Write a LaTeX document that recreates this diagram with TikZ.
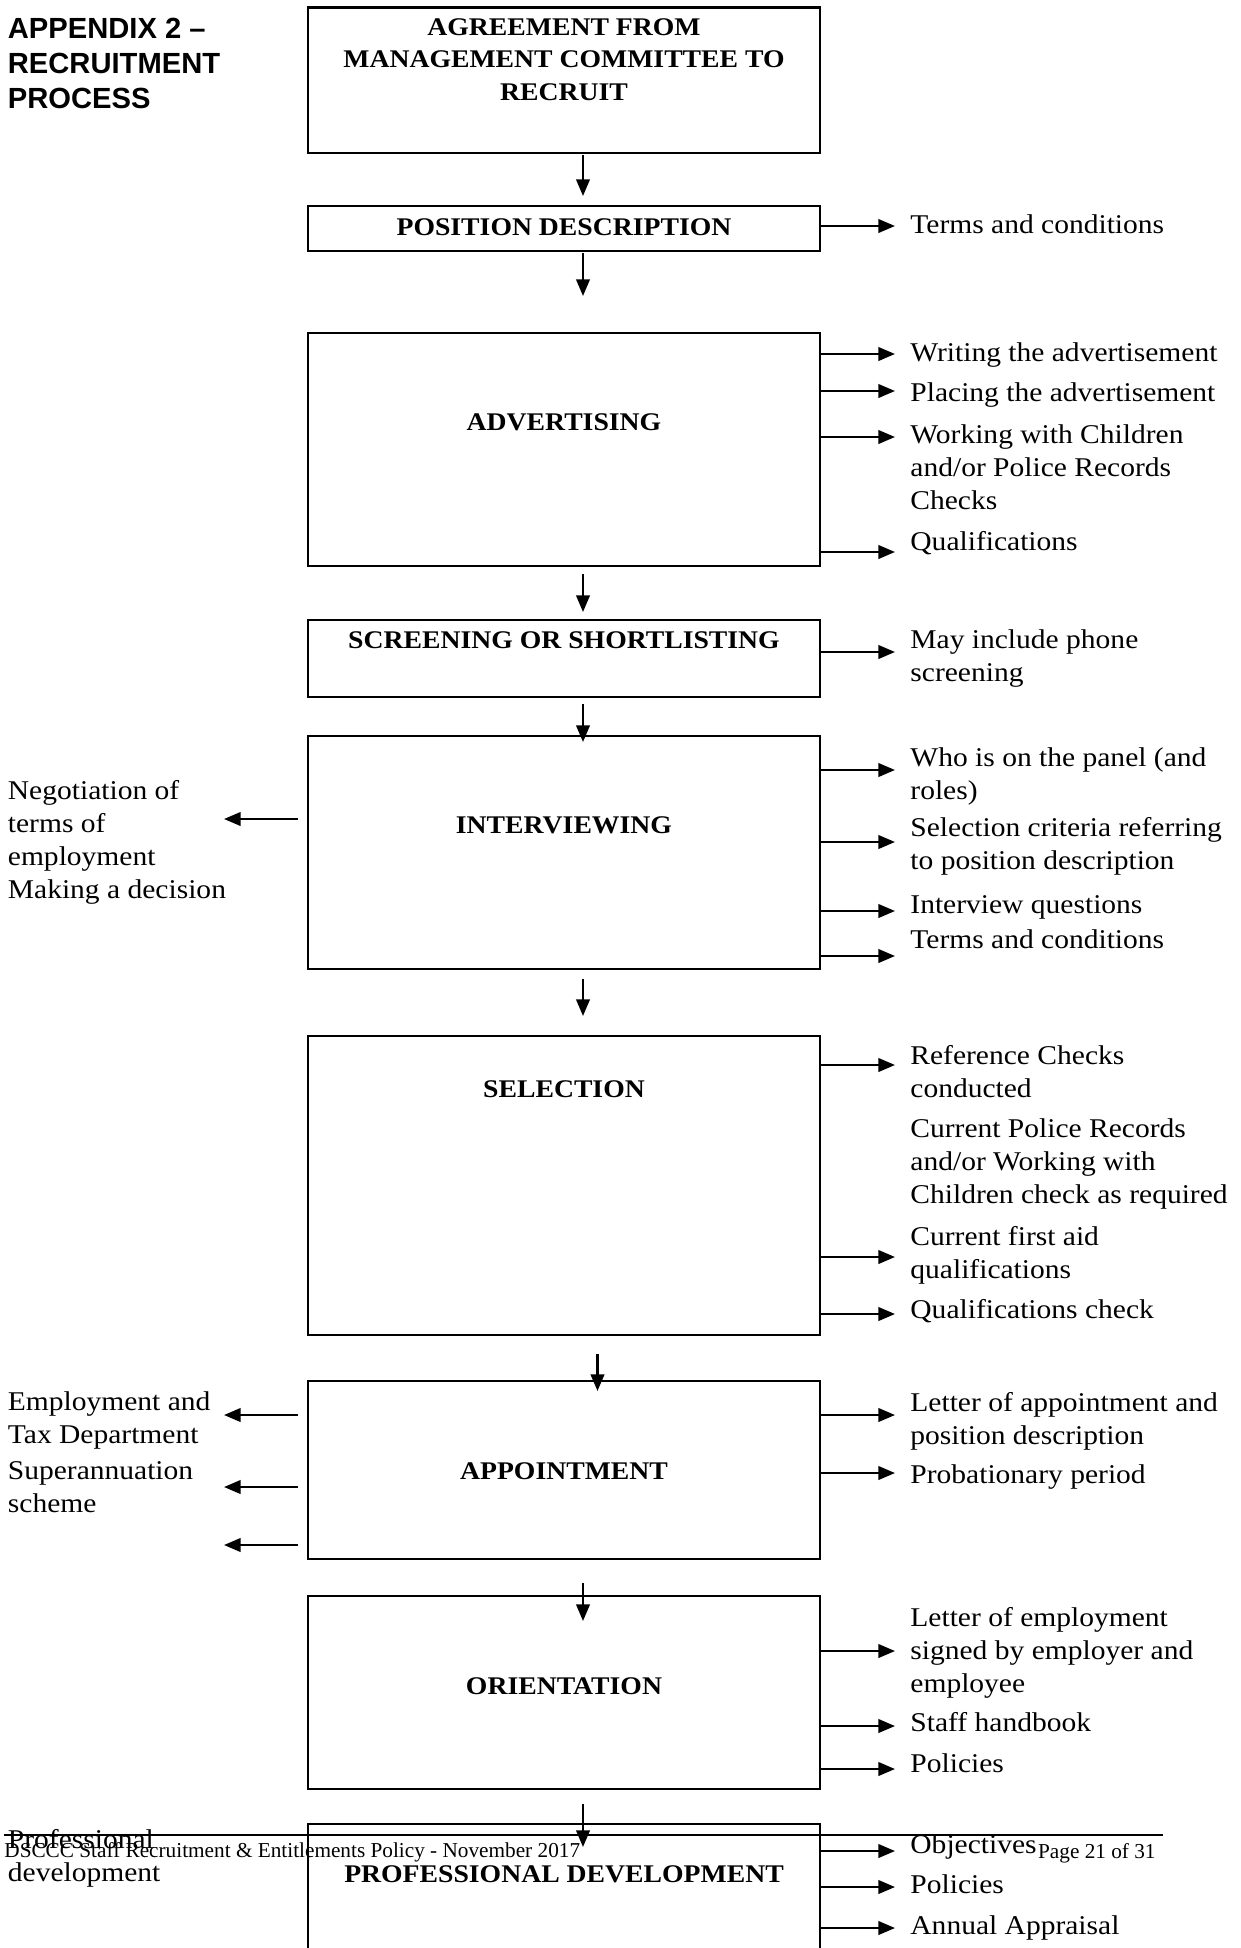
\documentclass[tikz,border=0pt]{standalone}
\usepackage{fontspec}
\setmainfont{Liberation Serif}[FakeStretch=1.09]
\newfontfamily\titlefont{Liberation Sans}
\newfontfamily\footfont{Liberation Serif}
\usetikzlibrary{arrows.meta}
\newcommand{\leftlines}[1]{\begin{tabular}[t]{@{}l@{}}#1\end{tabular}}
\newcommand{\midlines}[1]{\begin{tabular}[t]{@{}c@{}}#1\end{tabular}}
\newcommand{\procbox}[3]{\node[procrect, minimum height={(#3-#2)*0.48pt}] (#1) at (564,{(#2+#3)/2}) {};}
\begin{document}
\begin{tikzpicture}[x=0.48pt,y=-0.48pt,
  procrect/.style={draw, line width=1pt, minimum width=245.76pt, inner sep=0pt, outer sep=0pt},
  boxlabel/.style={font=\fontsize{12.2}{15.6}\selectfont\bfseries, inner sep=0pt, anchor=base},
  note/.style={font=\fontsize{13}{15.84}\selectfont, inner sep=0pt, anchor=base west},
  footnote/.style={font=\footfont\fontsize{10.2}{12}\selectfont, inner sep=0pt},
  flow/.style={line width=1.1pt, -{Triangle[length=8pt,width=6.5pt]}},
]
\useasboundingbox (0,0) rectangle (1241,1948);
\fill[white] (0,0) rectangle (1241,1948);

% title
\node[font=\titlefont\fontsize{14}{16.8}\selectfont\bfseries, inner sep=0pt, anchor=base west] (title) at (7.5,38) {\leftlines{APPENDIX 2 \textendash\\RECRUITMENT\\PROCESS}};

% process boxes
\procbox{b1}{7.5}{153}
\procbox{b2}{206}{251}
\procbox{b3}{333}{566}
\procbox{b4}{620}{697}
\procbox{b5}{736}{969}
\procbox{b6}{1036}{1335}
\procbox{b7}{1381}{1559}
\procbox{b8}{1596}{1789}
\procbox{b9}{1824}{2010}

% box labels
\node[boxlabel] (l1) at (564,35) {\midlines{AGREEMENT FROM\\MANAGEMENT COMMITTEE TO\\RECRUIT}};
\node[boxlabel] (l2) at (564,235) {POSITION DESCRIPTION};
\node[boxlabel] (l3) at (564,430) {ADVERTISING};
\node[boxlabel] (l4) at (564,648) {SCREENING OR SHORTLISTING};
\node[boxlabel] (l5) at (564,833) {INTERVIEWING};
\node[boxlabel] (l6) at (564,1097) {SELECTION};
\node[boxlabel] (l7) at (564,1479) {APPOINTMENT};
\node[boxlabel] (l8) at (564,1694) {ORIENTATION};
\node[boxlabel] (l9) at (564,1882) {PROFESSIONAL DEVELOPMENT};

% down arrows
\coordinate (d1s) at (583,155);   \coordinate (d1e) at (583,196);
\coordinate (d2s) at (583,253);   \coordinate (d2e) at (583,296);
\coordinate (d3s) at (583,574);   \coordinate (d3e) at (583,612);
\coordinate (d4s) at (583,704);   \coordinate (d4e) at (583,742);
\coordinate (d5s) at (583,979);   \coordinate (d5e) at (583,1016);
\coordinate (d6s) at (597.5,1354); \coordinate (d6e) at (597.5,1391);
\coordinate (d7s) at (583,1583);  \coordinate (d7e) at (583,1621);
\coordinate (d8s) at (583,1804);  \coordinate (d8e) at (583,1847);
\foreach \i in {1,...,8} {\draw[flow] (d\i s) -- (d\i e);}

% right arrows (tips)
\coordinate (r2a) at (895,226);
\coordinate (r3a) at (895,354);
\coordinate (r3b) at (895,391);
\coordinate (r3c) at (895,437);
\coordinate (r3d) at (895,552);
\coordinate (r4a) at (895,652);
\coordinate (r5a) at (895,770);
\coordinate (r5b) at (895,842);
\coordinate (r5c) at (895,911);
\coordinate (r5d) at (895,956);
\coordinate (r6a) at (895,1065);
\coordinate (r6b) at (895,1257);
\coordinate (r6c) at (895,1314);
\coordinate (r7a) at (895,1415);
\coordinate (r7b) at (895,1473);
\coordinate (r8a) at (895,1651);
\coordinate (r8b) at (895,1726);
\coordinate (r8c) at (895,1769);
\coordinate (r9a) at (895,1851);
\coordinate (r9b) at (895,1887);
\coordinate (r9c) at (895,1928);
\draw[flow] (b2.east |- r2a) -- (r2a);
\foreach \t in {a,b,c,d} {\draw[flow] (b3.east |- r3\t) -- (r3\t);}
\draw[flow] (b4.east |- r4a) -- (r4a);
\foreach \t in {a,b,c,d} {\draw[flow] (b5.east |- r5\t) -- (r5\t);}
\foreach \t in {a,b,c} {\draw[flow] (b6.east |- r6\t) -- (r6\t);}
\foreach \t in {a,b} {\draw[flow] (b7.east |- r7\t) -- (r7\t);}
\foreach \t in {a,b,c} {\draw[flow] (b8.east |- r8\t) -- (r8\t);}
\foreach \t in {a,b,c} {\draw[flow] (b9.east |- r9\t) -- (r9\t);}

% left arrows
\coordinate (q5s) at (298,819);  \coordinate (q5e) at (224,819);
\coordinate (q7as) at (298,1415); \coordinate (q7ae) at (224,1415);
\coordinate (q7bs) at (298,1487); \coordinate (q7be) at (224,1487);
\coordinate (q7cs) at (298,1545); \coordinate (q7ce) at (224,1545);
\draw[flow] (q5s) -- (q5e);
\draw[flow] (q7as) -- (q7ae);
\draw[flow] (q7bs) -- (q7be);
\draw[flow] (q7cs) -- (q7ce);

% right notes
\node[note] (n2a) at (910,233) {Terms and conditions};
\node[note] (n3a) at (910,361) {Writing the advertisement};
\node[note] (n3b) at (910,401) {Placing the advertisement};
\node[note] (n3c) at (910,443) {\leftlines{Working with Children\\and/or Police Records\\Checks}};
\node[note] (n3d) at (910,550) {Qualifications};
\node[note] (n4a) at (910,648) {\leftlines{May include phone\\screening}};
\node[note] (n5a) at (910,766) {\leftlines{Who is on the panel (and\\roles)}};
\node[note] (n5b) at (910,836) {\leftlines{Selection criteria referring\\to position description}};
\node[note] (n5c) at (910,913) {Interview questions};
\node[note] (n5d) at (910,948) {Terms and conditions};
\node[note] (n6a) at (910,1064) {\leftlines{Reference Checks\\conducted}};
\node[note] (n6b) at (910,1137) {\leftlines{Current Police Records\\and/or Working with\\Children check as required}};
\node[note] (n6c) at (910,1245) {\leftlines{Current first aid\\qualifications}};
\node[note] (n6d) at (910,1318) {Qualifications check};
\node[note] (n7a) at (910,1411) {\leftlines{Letter of appointment and\\position description}};
\node[note] (n7b) at (910,1483) {Probationary period};
\node[note] (n8a) at (910,1626) {\leftlines{Letter of employment\\signed by employer and\\employee}};
\node[note] (n8b) at (910,1731) {Staff handbook};
\node[note] (n8c) at (910,1772) {Policies};
\node[note] (n9a) at (910,1853) {Objectives};
\node[note] (n9b) at (910,1893) {Policies};
\node[note] (n9c) at (910,1934) {Annual Appraisal};

% left notes
\node[note] (m5) at (7.5,799) {\leftlines{Negotiation of\\terms of\\employment\\Making a decision}};
\node[note] (m7a) at (7.5,1410) {\leftlines{Employment and\\Tax Department}};
\node[note] (m7b) at (7.5,1479) {\leftlines{Superannuation\\scheme}};
\node[note] (m9) at (7.5,1848) {\leftlines{Professional\\development}};

% footer
\coordinate (fl1) at (4,1835); \coordinate (fl2) at (1163,1835);
\draw[line width=1pt] (fl1) -- (fl2);
\node[footnote, anchor=base west] (foot) at (4,1857) {DSCCC Staff Recruitment \& Entitlements Policy - November 2017};
\node[footnote, anchor=base east] (page) at (1156,1858) {Page 21 of 31};
\end{tikzpicture}
\end{document}
